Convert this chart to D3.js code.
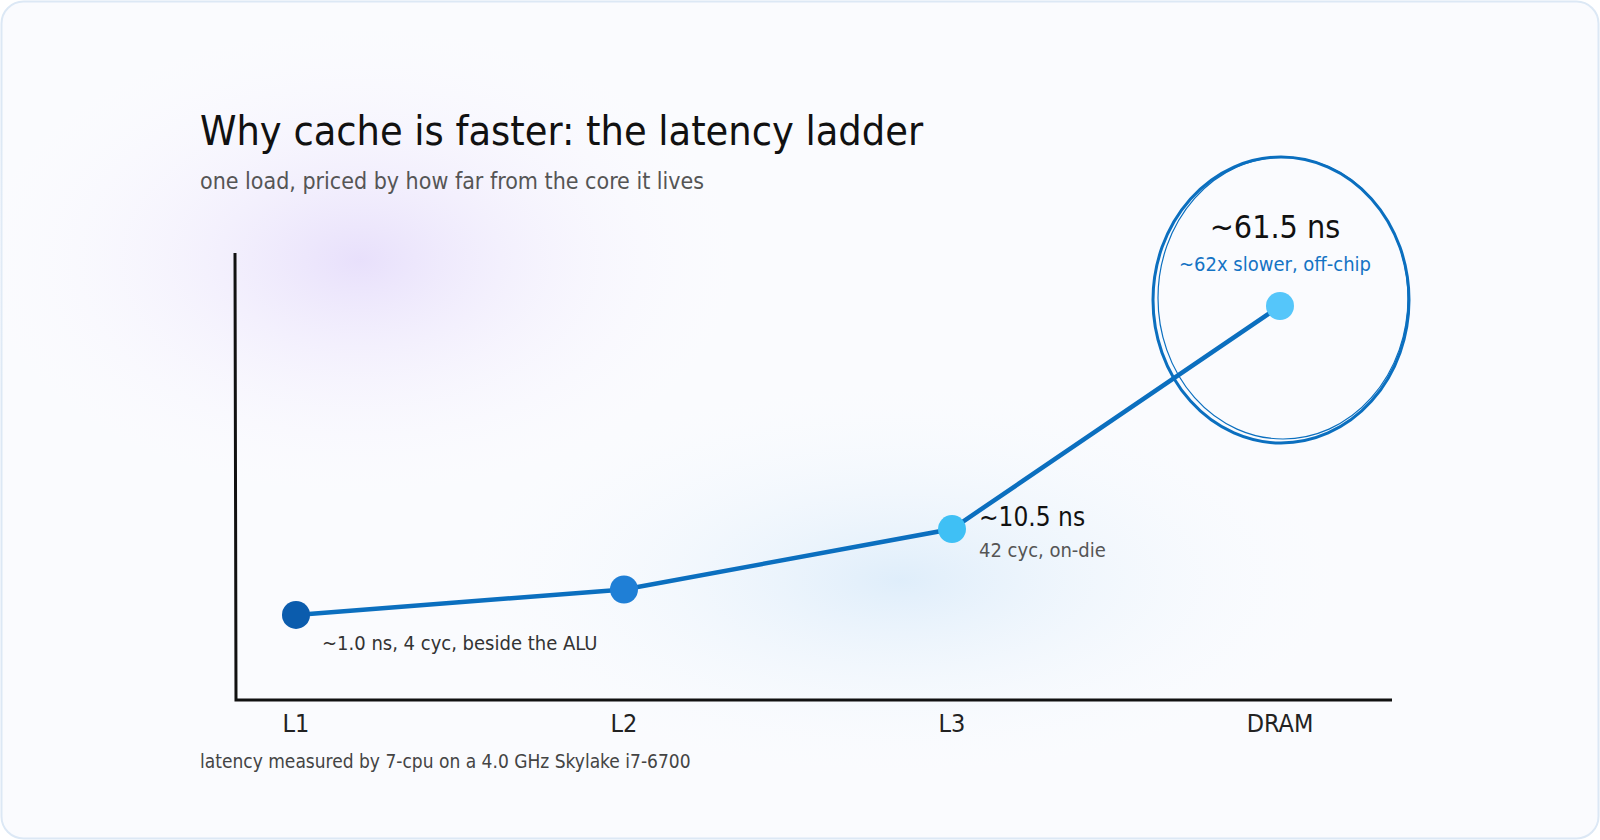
<!DOCTYPE html>
<html><head><meta charset="utf-8">
<style>
body{margin:0;background:#fff;}
text{font-family:"DejaVu Sans Condensed","Liberation Sans Narrow","Noto Sans",sans-serif;}
</style></head>
<body>
<svg width="1600" height="840"></svg>
<script src="https://d3js.org/d3.v7.min.js"></script>
<script>
// data
var levels = ["L1", "L2", "L3", "DRAM"];
var latencyNs = [1.0, 3.0, 10.5, 61.5];
var pointColors = ["#0b5cad", "#1f7fd6", "#3fc0f5", "#55c6fa"];
var notes = ["~1.0 ns, 4 cyc, beside the ALU", "", "42 cyc, on-die", "~62x slower, off-chip"];
var heads = ["", "", "~10.5 ns", "~61.5 ns"];

var svg = d3.select("svg");
var defs = svg.append("defs");
var g1 = defs.append("radialGradient").attr("id", "glow1");
g1.append("stop").attr("offset", "0%").attr("stop-color", "#e6ddfb").attr("stop-opacity", 0.9);
g1.append("stop").attr("offset", "100%").attr("stop-color", "#fff").attr("stop-opacity", 0);
var g2 = defs.append("radialGradient").attr("id", "glow2");
g2.append("stop").attr("offset", "0%").attr("stop-color", "#dcecfa").attr("stop-opacity", 0.9);
g2.append("stop").attr("offset", "100%").attr("stop-color", "#fff").attr("stop-opacity", 0);

svg.append("rect").attr("x", 1.5).attr("y", 1.5).attr("width", 1597).attr("height", 837)
  .attr("rx", 22).attr("fill", "#fafbfe").attr("stroke", "#dce8f5").attr("stroke-width", 2);
svg.append("ellipse").attr("cx", 360).attr("cy", 260).attr("rx", 420).attr("ry", 260).attr("fill", "url(#glow1)");
svg.append("ellipse").attr("cx", 900).attr("cy", 580).attr("rx", 500).attr("ry", 220).attr("fill", "url(#glow2)");

var x = d3.scalePoint().domain(levels).range([296, 1280]);
var y = d3.scalePow().exponent(0.62).domain([0, 61.5]).range([641, 306]);

svg.append("text").attr("x", 200).attr("y", 145).attr("font-size", 41).attr("fill", "#111")
  .text("Why cache is faster: the latency ladder");
svg.append("text").attr("x", 200).attr("y", 189).attr("font-size", 23).attr("fill", "#555")
  .text("one load, priced by how far from the core it lives");

// axes
svg.append("path").attr("d", "M235,253 L236,700 L1392,700").attr("fill", "none")
  .attr("stroke", "#111").attr("stroke-width", 3);
levels.forEach(function(l) {
  svg.append("text").attr("x", x(l)).attr("y", 732).attr("text-anchor", "middle")
    .attr("font-size", 25).attr("fill", "#222").text(l);
});

var line = d3.line().x(function(d, i) { return x(levels[i]); }).y(function(d) { return y(d); })
  .curve(d3.curveMonotoneX);
svg.append("path").datum(latencyNs.slice(0, 2)).attr("d", line).attr("fill", "none")
  .attr("stroke", "#0b6fbf").attr("stroke-width", 4.5);
svg.append("path").datum(latencyNs).attr("d", d3.line()
    .x(function(d, i) { return x(levels[i]); }).y(function(d) { return y(d); })
    .defined(function(d, i) { return i >= 1; }))
  .attr("fill", "none").attr("stroke", "#0b6fbf").attr("stroke-width", 4.5);

// DRAM circle
var cx = x("DRAM"), cy = y(61.5);
svg.append("ellipse").attr("cx", cx + 1).attr("cy", cy - 6).attr("rx", 128).attr("ry", 143)
  .attr("fill", "none").attr("stroke", "#0b6fbf").attr("stroke-width", 3);
svg.append("ellipse").attr("cx", cx + 3).attr("cy", cy - 8).attr("rx", 125).attr("ry", 141)
  .attr("fill", "none").attr("stroke", "#0b6fbf").attr("stroke-width", 1.2);

latencyNs.forEach(function(v, i) {
  svg.append("circle").attr("cx", x(levels[i])).attr("cy", y(v)).attr("r", 14).attr("fill", pointColors[i]);
});

svg.append("text").attr("x", 322).attr("y", y(1) + 35).attr("font-size", 20).attr("fill", "#333").text(notes[0]);
svg.append("text").attr("x", x("L3") + 27).attr("y", y(10.5) - 3).attr("font-size", 26).attr("fill", "#111").text(heads[2]);
svg.append("text").attr("x", x("L3") + 27).attr("y", y(10.5) + 28).attr("font-size", 20).attr("fill", "#555").text(notes[2]);
svg.append("text").attr("x", cx - 5).attr("y", cy - 68).attr("text-anchor", "middle").attr("font-size", 32).attr("fill", "#111").text(heads[3]);
svg.append("text").attr("x", cx - 5).attr("y", cy - 35).attr("text-anchor", "middle").attr("font-size", 20).attr("fill", "#1473c4").text(notes[3]);

svg.append("text").attr("x", 200).attr("y", 768).attr("font-size", 19).attr("fill", "#444")
  .text("latency measured by 7-cpu on a 4.0 GHz Skylake i7-6700");
</script>
</body></html>
